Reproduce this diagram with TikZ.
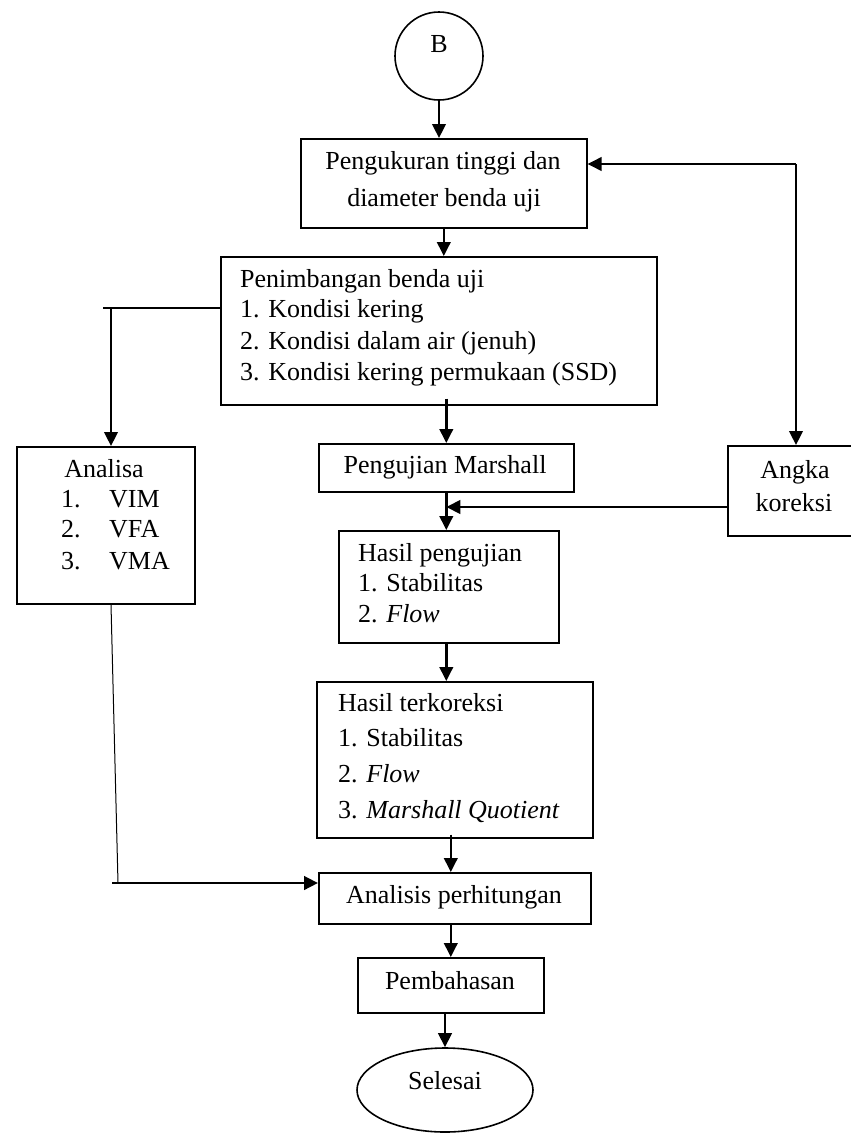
\documentclass[tikz,border=0pt]{standalone}
\usepackage{fontspec}
\setmainfont{Liberation Serif}
\usetikzlibrary{arrows.meta,shapes.geometric,calc}
\begin{document}
\begin{tikzpicture}[x=1pt,y=-1pt,
  box/.style={draw,line width=1.6pt,inner sep=0pt,anchor=north west},
  txt/.style={font=\fontsize{26}{30}\selectfont,inner sep=0pt,anchor=mid},
  txtl/.style={txt,anchor=mid west},
  arr/.style={line width=2.5pt,-{Triangle[length=14pt,width=13.5pt]}},
  thin/.style={line width=1pt}]
\useasboundingbox (0,0) rectangle (851,1133);
% shapes
\node[draw,line width=1.6pt,circle,minimum size=88pt,inner sep=0pt] (B) at (439,56) {};
\node[box,minimum width=286pt,minimum height=89pt] (b1) at (300,138) {};
\node[box,minimum width=436pt,minimum height=148pt] (b2) at (220,256) {};
\node[box,minimum width=178pt,minimum height=157pt] (ana) at (16,446) {};
\node[box,minimum width=255pt,minimum height=48pt] (mar) at (318,443) {};
\node[box,minimum width=127pt,minimum height=90pt] (ang) at (727,445) {};
\node[box,minimum width=220pt,minimum height=112pt] (hp) at (338,530) {};
\node[box,minimum width=276pt,minimum height=156pt] (hk) at (316,681) {};
\node[box,minimum width=272pt,minimum height=51pt] (ap) at (318,872) {};
\node[box,minimum width=186pt,minimum height=55pt] (pb) at (357,957) {};
\node[draw,line width=1.6pt,ellipse,minimum width=176pt,minimum height=84pt,inner sep=0pt] (sel) at (445,1090) {};
% texts
\node[txt] (tB) at (439,50) {B};
\node[txt] (t1a) at (443,167) {Pengukuran tinggi dan};
\node[txt] (t1b) at (444,204) {diameter benda uji};
\node[txtl] (t2a) at (240,285) {Penimbangan benda uji};
\node[txtl] (t2b) at (240,315) {1. Kondisi kering};
\node[txtl] (t2c) at (240,347) {2. Kondisi dalam air (jenuh)};
\node[txtl] (t2d) at (240,378) {3. Kondisi kering permukaan (SSD)};
\node[txt] (tana) at (104,475) {Analisa};
\node[txtl] (tn1) at (61,505) {1.};
\node[txtl] (tn2) at (61,535) {2.};
\node[txtl] (tn3) at (61,567) {3.};
\node[txtl] (tv1) at (109,505) {VIM};
\node[txtl] (tv2) at (109,535) {VFA};
\node[txtl] (tv3) at (109,567) {VMA};
\begin{scope}
\clip (318,443) rectangle (573,480.5);
\node[txt] (tmar) at (445,471.5) {Pengujian Marshall};
\end{scope}
\node[txt] (tang1) at (795,476) {Angka};
\node[txt] (tang2) at (794,509) {koreksi};
\node[txtl] (thp1) at (358,559) {Hasil pengujian};
\node[txtl] (thp2) at (358,589) {1. Stabilitas};
\node[txtl] (thp3) at (358,620) {2. \textit{Flow}};
\node[txtl] (thk1) at (338,709) {Hasil terkoreksi};
\node[txtl] (thk2) at (338,744) {1. Stabilitas};
\node[txtl] (thk3) at (338,780) {2. \textit{Flow}};
\node[txtl] (thk4) at (338,816) {3. \textit{Marshall Quotient}};
\node[txt] (tap) at (454,901) {Analisis perhitungan};
\node[txt] (tpb) at (450,987) {Pembahasan};
\node[txt] (tsel) at (445,1087) {Selesai};
% junction coordinates
\coordinate (jL) at (111,308);
\coordinate (jL0) at (103,308);
\coordinate (R) at (796,164);
\coordinate (K) at (727,507);
\coordinate (jB) at (118,883);
\coordinate (jB0) at (112,883);
% connectors
\draw[arr] (B.south) -- (B.south |- b1.north);
\draw[arr] (b1.south) -- (b1.south |- b2.north);
\draw[arr] ($(mar.north |- b2.south)+(0,-7)$) -- (mar.north);
\draw[line width=1.4pt] (b2.west |- jL) -- (jL0);
\draw[arr] (jL) -- (jL |- ana.north);
\draw[arr] (R) -- (b1.east |- R);
\draw[arr] (R) -- (R |- ang.north);
\draw[arr] (K) -- (mar.south |- K);
\draw[arr] (mar.south) -- (mar.south |- hp.north);
\draw[arr] (mar.south |- hp.south) -- (mar.south |- hk.north);
\draw[arr] ($(hk.south)+(-4,-4)$) -- ($(hk.south |- ap.north)+(-4,0)$);
\draw[arr] (pb.north |- ap.south) -- (pb.north);
\draw[arr] (sel.north |- pb.south) -- (sel.north);
\draw[thin] (jL |- ana.south) -- (jB);
\draw[line width=2.8pt,-{Triangle[length=14pt,width=13.5pt]}] (jB0) -- (ap.west |- jB0);
\end{tikzpicture}
\end{document}
